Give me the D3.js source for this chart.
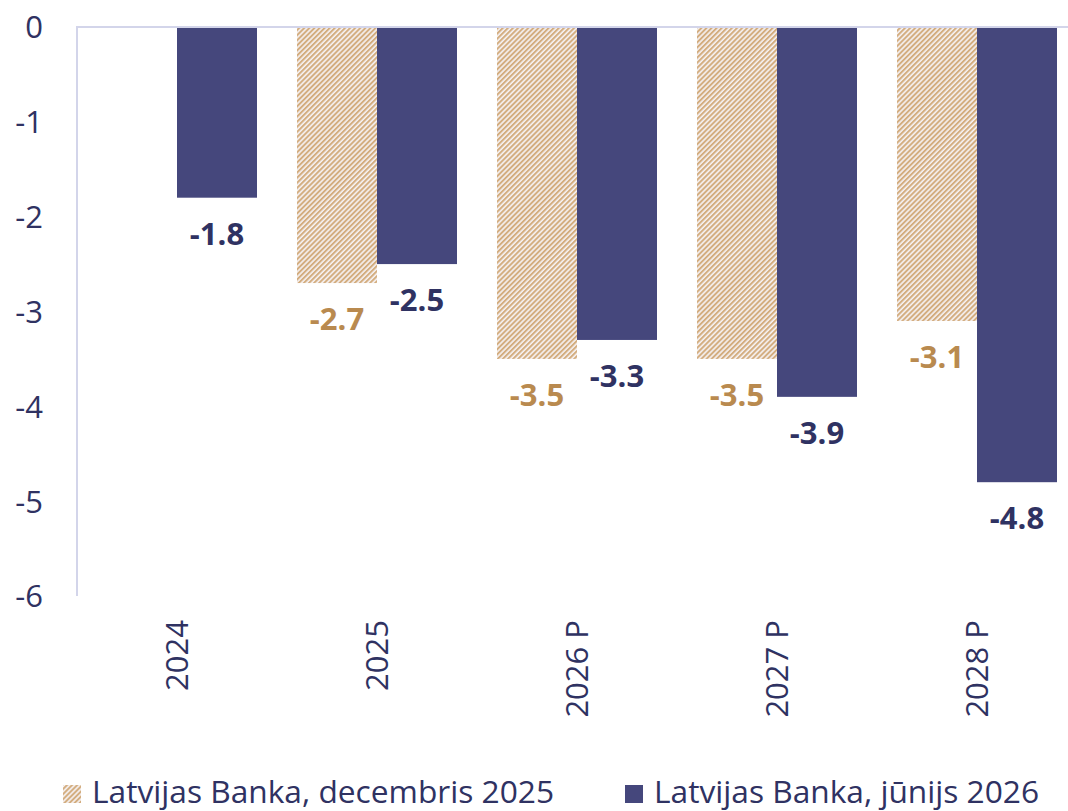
<!DOCTYPE html>
<html>
<head>
<meta charset="utf-8">
<script src="https://cdn.jsdelivr.net/npm/d3@7"></script>
<style>
  html, body { margin: 0; padding: 0; background: #ffffff; }
  svg { display: block; font-family: "Open Sans", sans-serif; }
</style>
</head>
<body>
<svg id="chart" width="1068" height="811"></svg>
<script>
// Budget balance, % of GDP
const categories = ["2024", "2025", "2026 P", "2027 P", "2028 P"];
const seriesNames = ["Latvijas Banka, decembris 2025", "Latvijas Banka, jūnijs 2026"];
const decValues = [null, -2.7, -3.5, -3.5, -3.1];
const junValues = [-1.8, -2.5, -3.3, -3.9, -4.8];
const yTicks = [0, -1, -2, -3, -4, -5, -6];

const svg = d3.select("#chart");
const margin = { left: 77, right: 1077, top: 27, bottom: 596 };

const textColor = "#2f3262";
const navy = "#45477c";
const gold = "#b98a4f";
const axisColor = "#d3d5ea";
const fontSize = "31px";

// hyphen-minus for negatives
const fmt1 = v => d3.format(".1f")(v).replace("\u2212", "-");
const fmt0 = v => String(v);

// Diagonal hatch for the December series
const defs = svg.append("defs");
const pat = defs.append("pattern")
  .attr("id", "hatch")
  .attr("patternUnits", "userSpaceOnUse")
  .attr("width", 3.6).attr("height", 3.6)
  .attr("patternTransform", "rotate(45)");
pat.append("rect").attr("width", 3.6).attr("height", 3.6).attr("fill", "#f6f2f3");
pat.append("rect").attr("width", 2.0).attr("height", 3.6).attr("fill", "#d3ad7f");

const x = d3.scaleBand().domain(categories).range([margin.left, margin.right]).paddingInner(0).paddingOuter(0);
const inner = d3.scaleBand().domain([0, 1]).range([0, x.bandwidth()]).paddingOuter(0.25).paddingInner(0);
const y = d3.scaleLinear().domain([0, -6]).range([margin.top, margin.bottom]);

// Y axis labels
const yAxis = d3.axisLeft(y).tickValues(yTicks).tickSize(0).tickPadding(34).tickFormat(fmt0);
const gy = svg.append("g").attr("transform", `translate(${margin.left},0)`).call(yAxis);
gy.select(".domain").remove();
gy.selectAll("text")
  .attr("fill", textColor)
  .style("font-size", fontSize)
  .style("font-family", "'Open Sans', sans-serif")
  .attr("dy", "0.35em");

// Bars with value labels
const series = [
  { values: decValues, fill: "url(#hatch)", label: gold },
  { values: junValues, fill: navy, label: textColor }
];

series.forEach((s, i) => {
  const data = categories.map((c, k) => ({ c, v: s.values[k] })).filter(d => d.v !== null);
  svg.append("g").selectAll("rect").data(data).join("rect")
    .attr("x", d => x(d.c) + inner(i))
    .attr("y", y(0))
    .attr("width", inner.bandwidth())
    .attr("height", d => y(d.v) - y(0))
    .attr("fill", s.fill);
  svg.append("g").selectAll("text").data(data).join("text")
    .attr("x", d => x(d.c) + inner(i) + inner.bandwidth() / 2)
    .attr("y", d => y(d.v) + 36)
    .attr("dy", "0.35em")
    .attr("text-anchor", "middle")
    .attr("fill", s.label)
    .style("font-size", fontSize)
    .style("font-weight", "700")
    .text(d => fmt1(d.v));
});

// Axis lines
svg.append("line")
  .attr("x1", margin.left).attr("x2", margin.right)
  .attr("y1", y(0)).attr("y2", y(0))
  .attr("stroke", axisColor).attr("stroke-width", 2);
svg.append("line")
  .attr("x1", margin.left).attr("x2", margin.left)
  .attr("y1", y(0) - 1).attr("y2", y(-6))
  .attr("stroke", axisColor).attr("stroke-width", 2);

// Category labels, rotated
svg.append("g").selectAll("text").data(categories).join("text")
  .attr("transform", d => `translate(${x(d) + x.bandwidth() / 2},${y(-6) + 24}) rotate(-90)`)
  .attr("dy", "0.35em")
  .attr("text-anchor", "end")
  .attr("fill", textColor)
  .style("font-size", fontSize)
  .text(d => d);

// Legend
const legend = [
  { name: seriesNames[0], fill: "url(#hatch)", x: 63 },
  { name: seriesNames[1], fill: navy, x: 625 }
];
const lg = svg.append("g").selectAll("g").data(legend).join("g")
  .attr("transform", d => `translate(${d.x},803)`);
lg.append("rect").attr("x", 0).attr("y", -18).attr("width", 18).attr("height", 18).attr("fill", d => d.fill);
lg.append("text")
  .attr("x", 29)
  .attr("fill", textColor)
  .style("font-size", "31.7px")
  .text(d => d.name);
</script>
</body>
</html>
